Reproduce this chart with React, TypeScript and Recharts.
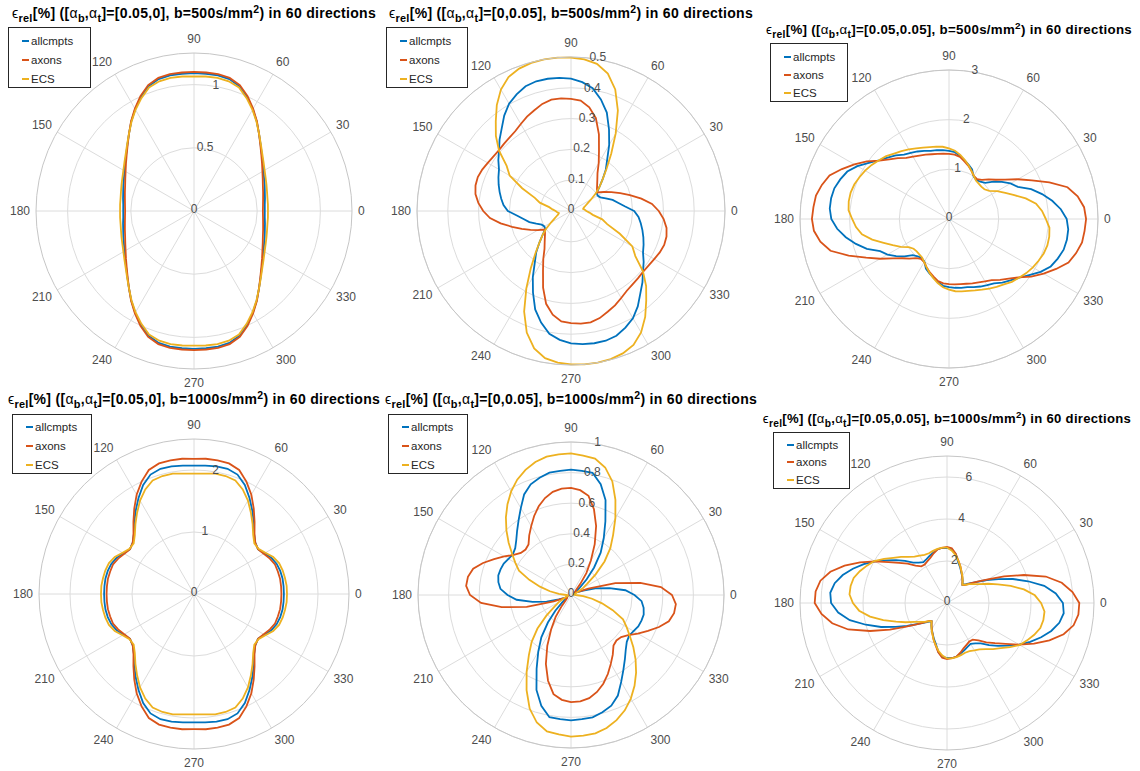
import React from "react";
import {
  RadarChart,
  Radar,
  PolarGrid,
  PolarAngleAxis,
  PolarRadiusAxis,
} from "recharts";

// angle samples (degrees, 5 degree steps) and labelled spokes
const ANGLES = [
  0, 5, 10, 15, 20, 25, 30, 35, 40, 45, 50, 55, 60, 65, 70, 75, 80, 85, 90, 95, 100, 105, 110, 115,
  120, 125, 130, 135, 140, 145, 150, 155, 160, 165, 170, 175, 180, 185, 190, 195, 200, 205, 210, 215,
  220, 225, 230, 235, 240, 245, 250, 255, 260, 265, 270, 275, 280, 285, 290, 295, 300, 305, 310, 315,
  320, 325, 330, 335, 340, 345, 350, 355,
];
const ANGLE_TICKS = [0, 30, 60, 90, 120, 150, 180, 210, 240, 270, 300, 330];

// panel 1: [0.05,0], b=500
const P1_ALLCMPTS = [0.56, 0.562, 0.57, 0.58, 0.595, 0.612, 0.635, 0.665, 0.7, 0.745, 0.8, 0.865, 0.93, 0.995, 1.05, 1.08, 1.09, 1.09, 1.09, 1.09, 1.09, 1.08, 1.05, 0.995, 0.93, 0.865, 0.8, 0.745, 0.7, 0.665, 0.635, 0.612, 0.595, 0.58, 0.57, 0.562, 0.56, 0.562, 0.57, 0.58, 0.595, 0.612, 0.635, 0.665, 0.7, 0.745, 0.8, 0.865, 0.93, 0.995, 1.05, 1.08, 1.09, 1.09, 1.09, 1.09, 1.09, 1.08, 1.05, 0.995, 0.93, 0.865, 0.8, 0.745, 0.7, 0.665, 0.635, 0.612, 0.595, 0.58, 0.57, 0.562];
const P1_AXONS = [0.545, 0.548, 0.555, 0.566, 0.58, 0.6, 0.625, 0.657, 0.695, 0.742, 0.8, 0.868, 0.935, 1.003, 1.06, 1.09, 1.1, 1.1, 1.1, 1.1, 1.1, 1.09, 1.06, 1.003, 0.935, 0.868, 0.8, 0.742, 0.695, 0.657, 0.625, 0.6, 0.58, 0.566, 0.555, 0.548, 0.545, 0.548, 0.555, 0.566, 0.58, 0.6, 0.625, 0.657, 0.695, 0.742, 0.8, 0.868, 0.935, 1.003, 1.06, 1.09, 1.1, 1.1, 1.1, 1.1, 1.1, 1.09, 1.06, 1.003, 0.935, 0.868, 0.8, 0.742, 0.695, 0.657, 0.625, 0.6, 0.58, 0.566, 0.555, 0.548];
const P1_ECS = [0.585, 0.587, 0.59, 0.598, 0.61, 0.625, 0.645, 0.672, 0.705, 0.748, 0.8, 0.862, 0.925, 0.985, 1.04, 1.062, 1.07, 1.068, 1.065, 1.068, 1.07, 1.062, 1.04, 0.985, 0.925, 0.862, 0.8, 0.748, 0.705, 0.672, 0.645, 0.625, 0.61, 0.598, 0.59, 0.587, 0.585, 0.587, 0.59, 0.598, 0.61, 0.625, 0.645, 0.672, 0.705, 0.748, 0.8, 0.862, 0.925, 0.985, 1.04, 1.062, 1.07, 1.068, 1.065, 1.068, 1.07, 1.062, 1.04, 0.985, 0.925, 0.862, 0.8, 0.748, 0.705, 0.672, 0.645, 0.625, 0.61, 0.598, 0.59, 0.587];

// panel 2: [0,0.05], b=500
const P2_ALLCMPTS = [0.205, 0.175, 0.155, 0.14, 0.12, 0.105, 0.1, 0.102, 0.12, 0.145, 0.176, 0.205, 0.248, 0.292, 0.34, 0.375, 0.405, 0.42, 0.43, 0.434, 0.436, 0.436, 0.431, 0.418, 0.402, 0.378, 0.35, 0.328, 0.305, 0.288, 0.27, 0.26, 0.25, 0.24, 0.23, 0.22, 0.205, 0.175, 0.155, 0.14, 0.12, 0.105, 0.1, 0.102, 0.12, 0.145, 0.176, 0.205, 0.248, 0.292, 0.34, 0.375, 0.405, 0.42, 0.43, 0.434, 0.436, 0.436, 0.431, 0.418, 0.402, 0.378, 0.35, 0.328, 0.305, 0.288, 0.27, 0.26, 0.25, 0.24, 0.23, 0.22];
const P2_AXONS = [0.285, 0.264, 0.232, 0.198, 0.17, 0.145, 0.124, 0.105, 0.11, 0.12, 0.133, 0.15, 0.18, 0.215, 0.265, 0.312, 0.342, 0.36, 0.364, 0.367, 0.367, 0.36, 0.348, 0.338, 0.326, 0.316, 0.311, 0.308, 0.306, 0.308, 0.312, 0.318, 0.322, 0.321, 0.315, 0.302, 0.285, 0.264, 0.232, 0.198, 0.17, 0.145, 0.124, 0.105, 0.11, 0.12, 0.133, 0.15, 0.18, 0.215, 0.265, 0.312, 0.342, 0.36, 0.364, 0.367, 0.367, 0.36, 0.348, 0.338, 0.326, 0.316, 0.311, 0.308, 0.306, 0.308, 0.312, 0.318, 0.322, 0.321, 0.315, 0.302];
const P2_ECS = [0.05, 0.045, 0.04, 0.043, 0.05, 0.06, 0.075, 0.097, 0.12, 0.145, 0.18, 0.228, 0.29, 0.36, 0.42, 0.462, 0.485, 0.494, 0.498, 0.5, 0.5, 0.498, 0.492, 0.48, 0.455, 0.42, 0.38, 0.345, 0.305, 0.255, 0.23, 0.175, 0.125, 0.105, 0.072, 0.06, 0.05, 0.045, 0.04, 0.043, 0.05, 0.06, 0.075, 0.097, 0.12, 0.145, 0.18, 0.228, 0.29, 0.36, 0.42, 0.462, 0.485, 0.494, 0.498, 0.5, 0.5, 0.498, 0.492, 0.48, 0.455, 0.42, 0.38, 0.345, 0.305, 0.255, 0.23, 0.175, 0.125, 0.105, 0.072, 0.06];

// panel 3: [0.05,0.05], b=500
const P3_ALLCMPTS = [2.37, 2.26, 2.11, 1.94, 1.76, 1.53, 1.43, 1.3, 1.17, 1.03, 0.98, 0.96, 0.99, 1.1, 1.16, 1.22, 1.29, 1.35, 1.37, 1.39, 1.41, 1.42, 1.46, 1.5, 1.54, 1.58, 1.67, 1.75, 1.84, 1.97, 2.13, 2.26, 2.33, 2.39, 2.41, 2.41, 2.37, 2.26, 2.11, 1.94, 1.76, 1.53, 1.43, 1.3, 1.17, 1.03, 0.98, 0.96, 0.99, 1.1, 1.16, 1.22, 1.29, 1.35, 1.37, 1.39, 1.41, 1.42, 1.46, 1.5, 1.54, 1.58, 1.67, 1.75, 1.84, 1.97, 2.13, 2.26, 2.33, 2.39, 2.41, 2.41];
const P3_AXONS = [2.76, 2.73, 2.63, 2.47, 2.15, 1.84, 1.6, 1.38, 1.23, 1.13, 1.03, 0.98, 1.0, 1.07, 1.14, 1.2, 1.27, 1.3, 1.31, 1.32, 1.33, 1.35, 1.38, 1.41, 1.45, 1.5, 1.6, 1.7, 1.83, 2.02, 2.2, 2.38, 2.56, 2.65, 2.72, 2.74, 2.76, 2.73, 2.63, 2.47, 2.15, 1.84, 1.6, 1.38, 1.23, 1.13, 1.03, 0.98, 1.0, 1.07, 1.14, 1.2, 1.27, 1.3, 1.31, 1.32, 1.33, 1.35, 1.38, 1.41, 1.45, 1.5, 1.6, 1.7, 1.83, 2.02, 2.2, 2.38, 2.56, 2.65, 2.72, 2.74];
const P3_ECS = [1.95, 1.88, 1.78, 1.6, 1.4, 1.25, 1.12, 0.99, 0.93, 0.92, 0.93, 0.945, 1.0, 1.07, 1.15, 1.23, 1.31, 1.38, 1.42, 1.46, 1.48, 1.5, 1.53, 1.57, 1.62, 1.67, 1.72, 1.79, 1.84, 1.9, 1.95, 1.99, 2.03, 2.05, 2.05, 2.03, 1.95, 1.88, 1.78, 1.6, 1.4, 1.25, 1.12, 0.99, 0.93, 0.92, 0.93, 0.945, 1.0, 1.07, 1.15, 1.23, 1.31, 1.38, 1.42, 1.46, 1.48, 1.5, 1.53, 1.57, 1.62, 1.67, 1.72, 1.79, 1.84, 1.9, 1.95, 1.99, 2.03, 2.05, 2.05, 2.03];

// panel 4: [0.05,0], b=1000
const P4_ALLCMPTS = [1.45, 1.45, 1.45, 1.44, 1.42, 1.38, 1.31, 1.26, 1.29, 1.37, 1.5, 1.64, 1.79, 1.94, 2.05, 2.09, 2.09, 2.08, 2.07, 2.08, 2.09, 2.09, 2.05, 1.94, 1.79, 1.64, 1.5, 1.37, 1.29, 1.26, 1.31, 1.38, 1.42, 1.44, 1.45, 1.45, 1.45, 1.45, 1.45, 1.44, 1.42, 1.38, 1.31, 1.26, 1.29, 1.37, 1.5, 1.64, 1.79, 1.94, 2.05, 2.09, 2.09, 2.08, 2.07, 2.08, 2.09, 2.09, 2.05, 1.94, 1.79, 1.64, 1.5, 1.37, 1.29, 1.26, 1.31, 1.38, 1.42, 1.44, 1.45, 1.45];
const P4_AXONS = [1.41, 1.41, 1.41, 1.4, 1.39, 1.35, 1.3, 1.26, 1.29, 1.38, 1.52, 1.68, 1.85, 2.0, 2.13, 2.18, 2.19, 2.19, 2.18, 2.19, 2.19, 2.18, 2.13, 2.0, 1.85, 1.68, 1.52, 1.38, 1.29, 1.26, 1.3, 1.35, 1.39, 1.4, 1.41, 1.41, 1.41, 1.41, 1.41, 1.4, 1.39, 1.35, 1.3, 1.26, 1.29, 1.38, 1.52, 1.68, 1.85, 2.0, 2.13, 2.18, 2.19, 2.19, 2.18, 2.19, 2.19, 2.18, 2.13, 2.0, 1.85, 1.68, 1.52, 1.38, 1.29, 1.26, 1.3, 1.35, 1.39, 1.4, 1.41, 1.41];
const P4_ECS = [1.5, 1.5, 1.49, 1.48, 1.46, 1.41, 1.33, 1.27, 1.27, 1.35, 1.47, 1.6, 1.74, 1.86, 1.95, 1.97, 1.97, 1.95, 1.94, 1.95, 1.97, 1.97, 1.95, 1.86, 1.74, 1.6, 1.47, 1.35, 1.27, 1.27, 1.33, 1.41, 1.46, 1.48, 1.49, 1.5, 1.5, 1.5, 1.49, 1.48, 1.46, 1.41, 1.33, 1.27, 1.27, 1.35, 1.47, 1.6, 1.74, 1.86, 1.95, 1.97, 1.97, 1.95, 1.94, 1.95, 1.97, 1.97, 1.95, 1.86, 1.74, 1.6, 1.47, 1.35, 1.27, 1.27, 1.33, 1.41, 1.46, 1.48, 1.49, 1.5];

// panel 5: [0,0.05], b=1000
const P5_ALLCMPTS = [0.415, 0.357, 0.255, 0.165, 0.085, 0.045, 0.03, 0.035, 0.075, 0.145, 0.235, 0.338, 0.428, 0.532, 0.66, 0.75, 0.811, 0.815, 0.82, 0.815, 0.812, 0.793, 0.77, 0.725, 0.656, 0.597, 0.548, 0.506, 0.476, 0.464, 0.472, 0.485, 0.49, 0.492, 0.482, 0.463, 0.415, 0.357, 0.255, 0.165, 0.085, 0.045, 0.03, 0.035, 0.075, 0.145, 0.235, 0.338, 0.428, 0.532, 0.66, 0.75, 0.811, 0.815, 0.82, 0.815, 0.812, 0.793, 0.77, 0.725, 0.656, 0.597, 0.548, 0.506, 0.476, 0.464, 0.472, 0.485, 0.49, 0.492, 0.482, 0.463];
const P5_AXONS = [0.66, 0.59, 0.46, 0.3, 0.12, 0.05, 0.03, 0.03, 0.035, 0.05, 0.095, 0.175, 0.26, 0.367, 0.48, 0.58, 0.658, 0.688, 0.7, 0.698, 0.685, 0.656, 0.617, 0.57, 0.52, 0.476, 0.432, 0.42, 0.428, 0.457, 0.504, 0.555, 0.612, 0.662, 0.684, 0.688, 0.66, 0.59, 0.46, 0.3, 0.12, 0.05, 0.03, 0.03, 0.035, 0.05, 0.095, 0.175, 0.26, 0.367, 0.48, 0.58, 0.658, 0.688, 0.7, 0.698, 0.685, 0.656, 0.617, 0.57, 0.52, 0.476, 0.432, 0.42, 0.428, 0.457, 0.504, 0.555, 0.612, 0.662, 0.684, 0.688];
const P5_ECS = [0.03, 0.02, 0.02, 0.02, 0.03, 0.05, 0.09, 0.13, 0.21, 0.31, 0.4, 0.48, 0.58, 0.687, 0.79, 0.863, 0.905, 0.915, 0.925, 0.922, 0.918, 0.9, 0.87, 0.832, 0.782, 0.724, 0.662, 0.597, 0.532, 0.47, 0.42, 0.375, 0.29, 0.21, 0.14, 0.08, 0.03, 0.02, 0.02, 0.02, 0.03, 0.05, 0.09, 0.13, 0.21, 0.31, 0.4, 0.48, 0.58, 0.687, 0.79, 0.863, 0.905, 0.915, 0.925, 0.922, 0.918, 0.9, 0.87, 0.832, 0.782, 0.724, 0.662, 0.597, 0.532, 0.47, 0.42, 0.375, 0.29, 0.21, 0.14, 0.08];

// panel 6: [0.05,0.05], b=1000
const P6_ALLCMPTS = [5.52, 5.2, 4.7, 4.0, 3.34, 2.7, 2.19, 1.75, 1.48, 1.27, 1.14, 1.3, 1.45, 1.61, 1.82, 2.03, 2.37, 2.58, 2.62, 2.63, 2.6, 2.49, 2.4, 2.31, 2.25, 2.35, 2.51, 2.83, 3.17, 3.54, 3.97, 4.37, 4.77, 5.14, 5.43, 5.58, 5.52, 5.2, 4.7, 4.0, 3.34, 2.7, 2.19, 1.75, 1.48, 1.27, 1.14, 1.3, 1.45, 1.61, 1.82, 2.03, 2.37, 2.58, 2.62, 2.63, 2.6, 2.49, 2.4, 2.31, 2.25, 2.35, 2.51, 2.83, 3.17, 3.54, 3.97, 4.37, 4.77, 5.14, 5.43, 5.58];
const P6_AXONS = [6.3, 6.0, 5.55, 4.87, 3.9, 3.0, 2.25, 1.77, 1.45, 1.2, 1.14, 1.28, 1.45, 1.63, 1.86, 2.09, 2.39, 2.62, 2.67, 2.64, 2.59, 2.45, 2.3, 2.2, 2.12, 2.13, 2.33, 2.65, 2.98, 3.4, 3.97, 4.57, 5.19, 5.75, 6.12, 6.28, 6.3, 6.0, 5.55, 4.87, 3.9, 3.0, 2.25, 1.77, 1.45, 1.2, 1.14, 1.28, 1.45, 1.63, 1.86, 2.09, 2.39, 2.62, 2.67, 2.64, 2.59, 2.45, 2.3, 2.2, 2.12, 2.13, 2.33, 2.65, 2.98, 3.4, 3.97, 4.57, 5.19, 5.75, 6.12, 6.28];
const P6_ECS = [4.48, 4.2, 3.72, 3.14, 2.58, 2.17, 1.8, 1.56, 1.4, 1.23, 1.14, 1.3, 1.47, 1.64, 1.86, 2.08, 2.32, 2.51, 2.64, 2.65, 2.62, 2.57, 2.52, 2.53, 2.61, 2.7, 2.87, 3.1, 3.34, 3.66, 4.0, 4.21, 4.42, 4.6, 4.66, 4.66, 4.48, 4.2, 3.72, 3.14, 2.58, 2.17, 1.8, 1.56, 1.4, 1.23, 1.14, 1.3, 1.47, 1.64, 1.86, 2.08, 2.32, 2.51, 2.64, 2.65, 2.62, 2.57, 2.52, 2.53, 2.61, 2.7, 2.87, 3.1, 3.34, 3.66, 4.0, 4.21, 4.42, 4.6, 4.66, 4.66];

// radius axis ticks per panel
const P1_TICKS = [0, 0.5, 1];
const P2_TICKS = [0, 0.1, 0.2, 0.3, 0.4, 0.5];
const P3_TICKS = [0, 1, 2, 3];
const P4_TICKS = [0, 1, 2];
const P5_TICKS = [0, 0.2, 0.4, 0.6, 0.8, 1];
const P6_TICKS = [0, 2, 4, 6];

const SERIES = [
  { key: "allcmpts", color: "#0072BD" },
  { key: "axons", color: "#D95319" },
  { key: "ECS", color: "#EDB120" },
];

const FONT = '"Liberation Sans", Arial, Helvetica, sans-serif';
const LABEL = "#4d4d4d";

const buildRows = (all: number[], ax: number[], ecs: number[]) =>
  ANGLES.map((a, i) => ({ angle: a, allcmpts: all[i], axons: ax[i], ECS: ecs[i] }));

const PANELS = [
  { alpha: "[0.05,0]", b: "500", left: 0, top: 0, cx: 194, cy: 211, r: 158, max: 1.25, tc: 6, ticks: P1_TICKS, rows: buildRows(P1_ALLCMPTS, P1_AXONS, P1_ECS), titleTop: 5, titleSize: 14, lg: { x: 8, y: 27, w: 83, h: 61, first: 12.5, gap: 19 } },
  { alpha: "[0,0.05]", b: "500", left: 380, top: 0, cx: 191, cy: 211, r: 154, max: 0.5, tc: 6, ticks: P2_TICKS, rows: buildRows(P2_ALLCMPTS, P2_AXONS, P2_ECS), titleTop: 5, titleSize: 14, lg: { x: 6, y: 27, w: 82, h: 61, first: 12.5, gap: 19 } },
  { alpha: "[0.05,0.05]", b: "500", left: 760, top: 0, cx: 189, cy: 219, r: 149, max: 3, tc: 4, ticks: P3_TICKS, rows: buildRows(P3_ALLCMPTS, P3_AXONS, P3_ECS), titleTop: 22, titleSize: 13.3, lg: { x: 10, y: 43, w: 78, h: 59, first: 12.5, gap: 18.2 } },
  { alpha: "[0.05,0]", b: "1000", left: 0, top: 385, cx: 194, cy: 209, r: 155, max: 2.5, tc: 6, ticks: P4_TICKS, rows: buildRows(P4_ALLCMPTS, P4_AXONS, P4_ECS), titleTop: 6, titleSize: 14, lg: { x: 12, y: 29, w: 80, h: 60, first: 12, gap: 18.8 } },
  { alpha: "[0,0.05]", b: "1000", left: 380, top: 385, cx: 191, cy: 210, r: 153, max: 1, tc: 6, ticks: P5_TICKS, rows: buildRows(P5_ALLCMPTS, P5_AXONS, P5_ECS), titleTop: 6, titleSize: 14, lg: { x: 8, y: 29, w: 80, h: 60, first: 12, gap: 18.8 } },
  { alpha: "[0.05,0.05]", b: "1000", left: 760, top: 385, cx: 187, cy: 218, r: 147, max: 7, tc: 8, ticks: P6_TICKS, rows: buildRows(P6_ALLCMPTS, P6_AXONS, P6_ECS), titleTop: 26, titleSize: 13.1, lg: { x: 13, y: 47, w: 77, h: 57, first: 11.6, gap: 17.7 } },
];

const renderAngleTick = (props: any) => {
  const { x, y, payload, textAnchor } = props;
  const v = Number(payload.value);
  if (!ANGLE_TICKS.includes(v)) return <g />;
  const s = Math.sin((v * Math.PI) / 180);
  return (
    <text x={x} y={y + 4 - s * 8} textAnchor={textAnchor} fontSize={12} fill={LABEL} fontFamily={FONT}>
      {v}
    </text>
  );
};

const renderRadiusTick = (props: any) => {
  const { x, y, payload } = props;
  return (
    <text x={x} y={y + 2} textAnchor="middle" fontSize={12} fill={LABEL} fontFamily={FONT}>
      {payload.value}
    </text>
  );
};

const thin: React.CSSProperties = { fontWeight: 400 };

function Title({ alpha, b, size }: { alpha: string; b: string; size: number }) {
  const sub: React.CSSProperties = { fontSize: size * 0.78, position: "relative", top: 4 };
  const sup: React.CSSProperties = { fontSize: size * 0.75, position: "relative", top: -5 };
  return (
    <>
      <span style={thin}>ϵ</span>
      <span style={sub}>rel</span>[%] ([<span style={thin}>α</span>
      <span style={sub}>b</span>,<span style={thin}>α</span>
      <span style={sub}>t</span>]={alpha}, b={b}s/mm<span style={sup}>2</span>) in 60 directions
    </>
  );
}

function LegendBox({ lg }: { lg: { x: number; y: number; w: number; h: number; first: number; gap: number } }) {
  return (
    <div
      style={{
        position: "absolute",
        left: lg.x,
        top: lg.y,
        width: lg.w,
        height: lg.h,
        boxSizing: "border-box",
        border: "1px solid #262626",
        background: "#fff",
        fontFamily: FONT,
        fontSize: 11.5,
        color: "#262626",
      }}
    >
      {SERIES.map((s, i) => (
        <div key={s.key} style={{ position: "absolute", left: 0, top: lg.first + i * lg.gap - 8, height: 16, lineHeight: "16px", whiteSpace: "nowrap" }}>
          <span style={{ position: "absolute", left: 13, top: 7, width: 7, height: 2, background: s.color }} />
          <span style={{ position: "absolute", left: 22 }}>{s.key}</span>
        </div>
      ))}
    </div>
  );
}

export default function App() {
  return (
    <div style={{ position: "absolute", left: 0, top: 0, width: 1140, height: 771, overflow: "hidden", background: "#fff" }}>
      {PANELS.map((p, idx) => (
        <div key={idx} style={{ position: "absolute", left: p.left, top: p.top, width: 380, height: 400 }}>
          <RadarChart
            width={380}
            height={400}
            data={p.rows}
            cx={p.cx}
            cy={p.cy}
            outerRadius={p.r}
            startAngle={0}
            endAngle={360}
            margin={{ top: 0, right: 0, bottom: 0, left: 0 }}
          >
            <PolarGrid gridType="circle" polarAngles={ANGLE_TICKS} stroke="#dcdcdc" />
            <PolarAngleAxis
              dataKey="angle"
              type="number"
              domain={[0, 360]}
              ticks={ANGLE_TICKS}
              tickCount={13}
              tick={renderAngleTick}
              tickLine={false}
              tickSize={6}
              axisLineType="circle"
              axisLine={{ stroke: "#c6c6c6" }}
            />
            {SERIES.map((s) => (
              <Radar
                key={s.key}
                dataKey={s.key}
                name={s.key}
                stroke={s.color}
                strokeWidth={1.8}
                fill="none"
                fillOpacity={0}
                dot={false}
                isAnimationActive={false}
              />
            ))}
            <PolarRadiusAxis
              angle={80}
              type="number"
              scale="linear"
              domain={[0, p.max]}
              allowDataOverflow
              allowDecimals
              ticks={p.ticks}
              tickCount={p.tc}
              axisLine={false}
              tickLine={false}
              tick={renderRadiusTick}
            />
          </RadarChart>
          <div
            style={{
              position: "absolute",
              left: p.cx - 230,
              top: p.titleTop,
              width: 460,
              textAlign: "center",
              fontFamily: FONT,
              fontWeight: 700,
              fontSize: p.titleSize,
              letterSpacing: 0.3,
              lineHeight: "16px",
              color: "#000",
              whiteSpace: "nowrap",
            }}
          >
            <Title alpha={p.alpha} b={p.b} size={p.titleSize} />
          </div>
          <LegendBox lg={p.lg} />
        </div>
      ))}
    </div>
  );
}
